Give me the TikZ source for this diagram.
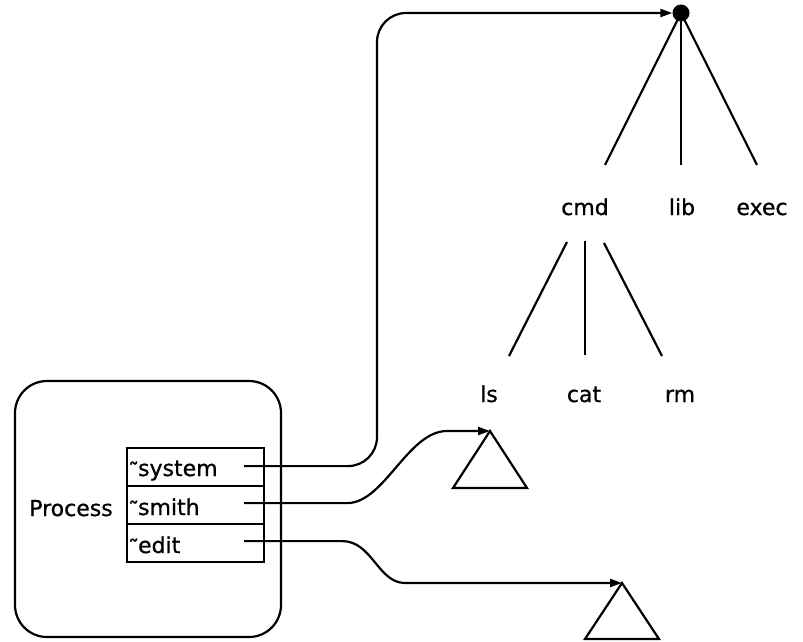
\documentclass[tikz,border=0pt]{standalone}
\usepackage{fontspec}
\setmainfont[FakeBold=0.8]{DejaVu Sans}
\usetikzlibrary{arrows.meta}
\begin{document}
\begin{tikzpicture}[x=1pt,y=-1pt,
  lbl/.style={font=\fontsize{22}{24}\selectfont, inner sep=0pt, anchor=base},
  line/.style={line width=2.2pt},
  conn/.style={line width=2.2pt, -{Triangle[length=12pt,width=8pt]}},
  row/.style={draw, line width=2.2pt, minimum width=137pt, minimum height=38pt, inner sep=0pt, anchor=north west},
  tri/.style={draw, line width=2.2pt, line join=miter}
]
\useasboundingbox (0,0) rectangle (803,642);
% process box
\draw[line, rounded corners=32pt] (15,381) rectangle (281,637);
\node[lbl] (proc) at (71,516) {Process};
% table rows
\node[row] (sys) at (126,447) {};
\node[row] (smi) at (126,485) {};
\node[row] (edi) at (126,523) {};
\newcommand{\tld}{\raisebox{-0.12em}{\char"02DC}\kern-0.05em}
\node[lbl, anchor=base west] (tsys) at (128,476) {\tld system};
\node[lbl, anchor=base west] (tsmi) at (128,515) {\tld smith};
\node[lbl, anchor=base west] (tedi) at (128,553) {\tld edit};
\coordinate (s1) at ([xshift=-21pt,yshift=1pt]sys.east);
\coordinate (s2) at ([xshift=-21pt,yshift=2pt]smi.east);
\coordinate (s3) at ([xshift=-21pt,yshift=2pt]edi.east);
% root dot
\node[circle, fill, minimum size=17pt, inner sep=0pt] (root) at (681,13) {};
\coordinate (v) at (377,13);
% triangles
\coordinate (t1) at (490,431);
\draw[tri] (t1) -- (527,488) -- (453,488) -- cycle;
\coordinate (t2) at (622,583);
\draw[tri] (t2) -- (659,639) -- (585,639) -- cycle;
% connectors
\draw[conn, rounded corners=29pt] (s1) -- (s1 -| v) -- (v) -- (root.west);
\draw[conn] (s2) -- ++(103,0) .. controls +(37,0) and (408,431) .. (447,431) -- (t1);
\draw[conn] (s3) -- ++(98,0) .. controls +(30,0) and (378,583) .. (405,583) -- (t2);
% tree labels
\node[lbl] (cmd) at (585,215) {cmd};
\node[lbl] (lib) at (682,215) {lib};
\node[lbl] (exec) at (762,215) {exec};
\node[lbl] (ls) at (489,402) {ls};
\node[lbl] (cat) at (584,402) {cat};
\node[lbl] (rm) at (680,402) {rm};
\draw[line] (root.center) -- (605,165);
\draw[line] (root.center) -- (681,165);
\draw[line] (root.center) -- (757,165);
\draw[line] (567,242) -- (509,356);
\draw[line] (585,241) -- (585,355);
\draw[line] (604,243) -- (662,356);
\end{tikzpicture}
\end{document}
